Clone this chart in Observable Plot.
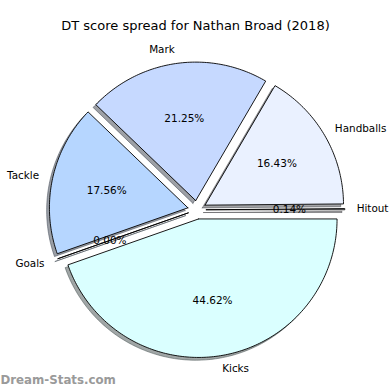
<!DOCTYPE html>
<html><head><meta charset="utf-8">
<script src="https://cdn.jsdelivr.net/npm/d3@7"></script>
<script src="https://cdn.jsdelivr.net/npm/@observablehq/plot@0.6"></script>
<style>body{margin:0;background:#fff}</style>
</head><body><div id="chart"></div>
<script>
const labels = ["Hitout", "Handballs", "Mark", "Tackle", "Goals", "Kicks"];
const values = [0.14, 16.43, 21.25, 17.56, 0.00, 44.62];
const colors = ["#f2f6ff", "#eaf1ff", "#c6d9ff", "#b6d6ff", "#c8e6ff", "#daffff"];
const title = "DT score spread for Nathan Broad (2018)";
const watermark = "Dream-Stats.com";

const explode = 0.067, labelDist = 1.1, pctDist = 0.6, shadowOff = 0.02;
const total = d3.sum(values);
let acc = 0;
const slices = labels.map((label, i) => {
  const a0 = acc / total * 2 * Math.PI;
  acc += values[i];
  const a1 = acc / total * 2 * Math.PI;
  const am = (a0 + a1) / 2;
  const cx = explode * Math.cos(am), cy = explode * Math.sin(am);
  const n = Math.max(2, Math.ceil((a1 - a0) / (Math.PI / 180)) + 1);
  const pts = [{x: cx, y: cy}];
  for (let k = 0; k < n; k++) {
    const a = a0 + (a1 - a0) * k / (n - 1);
    pts.push({x: cx + Math.cos(a), y: cy + Math.sin(a)});
  }
  pts.push({x: cx, y: cy});
  const shadow = pts.map(p => ({x: p.x - shadowOff, y: p.y - shadowOff}));
  const c = d3.rgb(colors[i]);
  const sc = d3.rgb(c.r * 0.3, c.g * 0.3, c.b * 0.3).formatHex();
  return {
    label, value: values[i], color: colors[i], shadowColor: sc, pts, shadow,
    lx: cx + labelDist * Math.cos(am), ly: cy + labelDist * Math.sin(am),
    px: cx + pctDist * Math.cos(am), py: cy + pctDist * Math.sin(am),
    anchor: Math.cos(am) > 0 ? "start" : "end"
  };
});

const R = 138.5, CX = 196.5, CY = 209.3, W = 390, H = 390;
const marks = [];
for (const s of slices) {
  marks.push(Plot.line(s.shadow, {x: "x", y: "y", fill: s.shadowColor, stroke: s.shadowColor, fillOpacity: 0.5, strokeOpacity: 0.5, strokeWidth: 1, curve: "linear"}));
}
for (const s of slices) {
  marks.push(Plot.line(s.pts, {x: "x", y: "y", fill: s.color, stroke: "black", strokeWidth: 0.9, curve: "linear"}));
}
for (const s of slices) {
  marks.push(Plot.text([s], {x: "px", y: "py", text: d => d.value.toFixed(2) + "%", fontSize: 10.5, fill: "black"}));
  marks.push(Plot.text([s], {x: "lx", y: "ly", text: "label", textAnchor: s.anchor, dx: s.anchor === "start" ? -2 : 0, fontSize: 10.4, fill: "black"}));
}
marks.push(Plot.text([title], {text: d => d, frameAnchor: "top", lineAnchor: "middle", dy: 25, fontSize: 13, fill: "black"}));
marks.push(Plot.text([watermark], {text: d => d, frameAnchor: "bottom-left", lineAnchor: "middle", textAnchor: "start", dy: -10, dx: 0, fontSize: 11.8, fontWeight: 600, fill: "#9a9a9a"}));

const chart = Plot.plot({
  width: W, height: H, margin: 0,
  x: {domain: [-CX / R, (W - CX) / R], axis: null},
  y: {domain: [-(H - CY) / R, CY / R], axis: null},
  style: {fontFamily: "DejaVu Sans", background: "white"},
  marks
});
document.getElementById("chart").appendChild(chart);
</script>
</body></html>
